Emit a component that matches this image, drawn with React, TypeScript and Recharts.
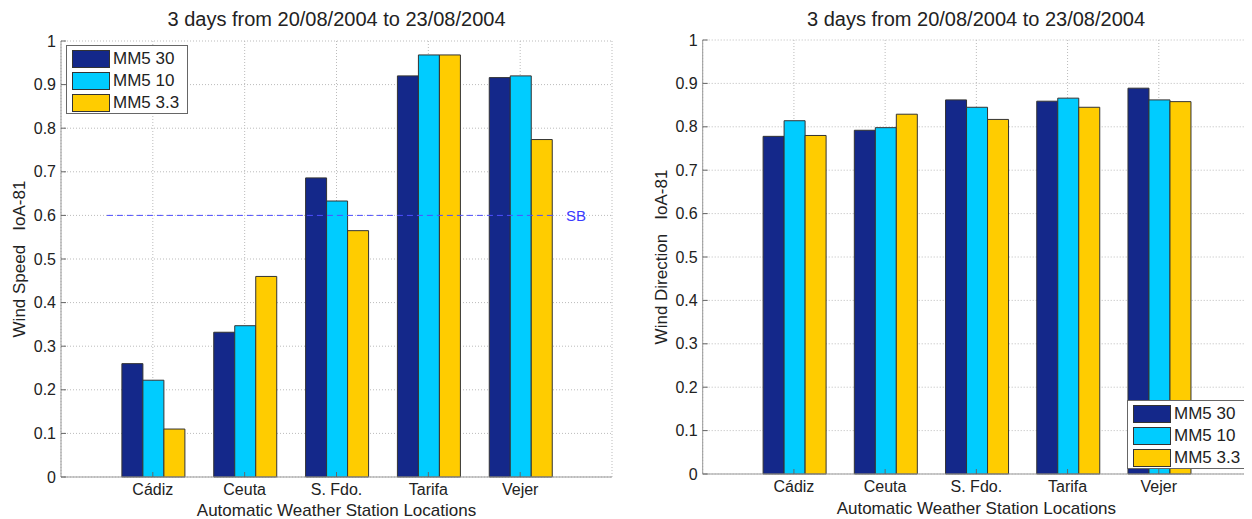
import { BarChart, Bar, XAxis, YAxis, CartesianGrid, ReferenceLine } from 'recharts';

const stations = ['Cádiz', 'Ceuta', 'S. Fdo.', 'Tarifa', 'Vejer'];
const seriesNames = ['MM5 30', 'MM5 10', 'MM5 3.3'];
const seriesColors = ['#14288a', '#00ccff', '#ffcc00'];
const yTicks = [0, 0.1, 0.2, 0.3, 0.4, 0.5, 0.6, 0.7, 0.8, 0.9, 1];

const title = '3 days from 20/08/2004 to 23/08/2004';
const xLabel = 'Automatic Weather Station Locations';

// wind speed IoA
const speed30 = [0.26, 0.332, 0.686, 0.92, 0.916];
const speed10 = [0.222, 0.347, 0.633, 0.968, 0.92];
const speed33 = [0.11, 0.46, 0.565, 0.968, 0.774];

// wind direction IoA
const dir30 = [0.778, 0.792, 0.862, 0.859, 0.889];
const dir10 = [0.814, 0.798, 0.845, 0.866, 0.862];
const dir33 = [0.78, 0.829, 0.817, 0.845, 0.858];

const sbLevel = 0.6;
const sbFrom = 0.5;
const sbTo = 5.4;

const FONT = '"Liberation Sans", Arial, sans-serif';
const TEXT = '#222';
const AXIS = '#999';
const TICK = '#666';

function buildRows(a: number[], b: number[], c: number[]) {
  return stations.map((name, i) => ({ name, idx: i + 1, s0: a[i], s1: b[i], s2: c[i] }));
}

interface PanelProps {
  rows: Array<Record<string, any>>;
  yLabel: string;
  margin: { top: number; right: number; bottom: number; left: number };
  pad: number;
  gap: number;
  xLabelOffset: number;
  showSB?: boolean;
}

function Panel({ rows, yLabel, margin, pad, gap, xLabelOffset, showSB }: PanelProps) {
  return (
    <BarChart width={626} height={519} data={rows} margin={margin} barGap={0} barCategoryGap={gap}>
      <CartesianGrid xAxisId="cat" yAxisId="v" stroke="#bbb" strokeDasharray="1 2" />
      <XAxis
        xAxisId="cat"
        dataKey="name"
        height={42}
        padding={{ left: pad, right: pad }}
        tickSize={-5}
        tickMargin={12}
        tickLine={{ stroke: TICK }}
        axisLine={{ stroke: AXIS }}
        tick={{ fontSize: 16, fill: TEXT, fontFamily: FONT }}
        label={{ value: xLabel, position: 'insideBottom', offset: xLabelOffset, fontSize: 17, fill: TEXT, fontFamily: FONT }}
      />
      <XAxis
        xAxisId="top"
        dataKey="name"
        orientation="top"
        height={0}
        padding={{ left: pad, right: pad }}
        tick={false}
        tickSize={-5}
        tickLine={{ stroke: TICK }}
        axisLine={{ stroke: AXIS }}
      />
      <XAxis xAxisId="num" dataKey="idx" type="number" domain={[0, 6]} allowDataOverflow hide />
      <YAxis
        yAxisId="v"
        domain={[0, 1]}
        ticks={yTicks}
        width={40}
        tickSize={-5}
        tickMargin={10}
        tickLine={{ stroke: TICK }}
        axisLine={{ stroke: AXIS }}
        tickFormatter={(v: number) => String(+v.toFixed(1))}
        tick={{ fontSize: 16, fill: TEXT, fontFamily: FONT }}
        label={{ value: yLabel, angle: -90, position: 'insideLeft', offset: -2, fontSize: 17, fill: TEXT, fontFamily: FONT, style: { textAnchor: 'middle' } }}
      />
      <YAxis
        yAxisId="r"
        orientation="right"
        domain={[0, 1]}
        ticks={yTicks}
        width={0}
        tick={false}
        tickSize={-5}
        tickLine={{ stroke: TICK }}
        axisLine={{ stroke: AXIS }}
      />
      {seriesNames.map((n, i) => (
        <Bar
          key={n}
          xAxisId="cat"
          yAxisId="v"
          dataKey={`s${i}`}
          name={n}
          fill={seriesColors[i]}
          stroke="#333"
          strokeWidth={1}
          isAnimationActive={false}
        />
      ))}
      {showSB && (
        <ReferenceLine
          xAxisId="num"
          yAxisId="v"
          segment={[{ x: sbFrom, y: sbLevel }, { x: sbTo, y: sbLevel }]}
          stroke="#4f4fff"
          strokeDasharray="6 4"
          label={{ value: 'SB', position: 'right', offset: 9, fill: '#3a3aff', fontSize: 15, fontFamily: FONT }}
        />
      )}
    </BarChart>
  );
}

function LegendBox({ left, top }: { left: number; top: number }) {
  return (
    <div
      style={{
        position: 'absolute',
        left,
        top,
        width: 122,
        height: 69,
        boxSizing: 'border-box',
        border: '1px solid #666',
        background: '#fff',
        fontFamily: FONT,
        fontSize: 17,
        color: TEXT,
        paddingTop: 2,
      }}
    >
      {seriesNames.map((n, i) => (
        <div key={n} style={{ display: 'flex', alignItems: 'center', height: 22 }}>
          <div style={{ width: 38, height: 18, marginLeft: 5, marginRight: 3, boxSizing: 'border-box', border: '1px solid #333', background: seriesColors[i] }} />
          <span>{n}</span>
        </div>
      ))}
    </div>
  );
}

function Title({ center }: { center: number }) {
  return (
    <div style={{ position: 'absolute', left: center - 250, top: 8, width: 500, textAlign: 'center', fontFamily: FONT, fontSize: 20, color: TEXT, lineHeight: '22px' }}>
      {title}
    </div>
  );
}

export default function App() {
  const speedRows = buildRows(speed30, speed10, speed33);
  const dirRows = buildRows(dir30, dir10, dir33);
  return (
    <div style={{ position: 'relative', width: 1252, height: 519, marginLeft: -8, marginTop: -8, background: '#fff' }}>
      <div style={{ position: 'absolute', left: 0, top: 0 }}>
        <Panel
          rows={speedRows}
          yLabel={'Wind Speed\u00a0\u00a0\u00a0IoA-81'}
          margin={{ top: 41, right: 14, bottom: 0, left: 21 }}
          pad={45.9}
          gap={15}
          xLabelOffset={3}
          showSB
        />
      </div>
      <div style={{ position: 'absolute', left: 626, top: 0 }}>
        <Panel
          rows={dirRows}
          yLabel={'Wind Direction\u00a0\u00a0\u00a0IoA-81'}
          margin={{ top: 40, right: 2, bottom: 3, left: 36.7 }}
          pad={45.6}
          gap={14.8}
          xLabelOffset={2}
        />
      </div>
      <Title center={336.5} />
      <Title center={976} />
      <LegendBox left={66} top={45} />
      <LegendBox left={1127} top={400} />
    </div>
  );
}
